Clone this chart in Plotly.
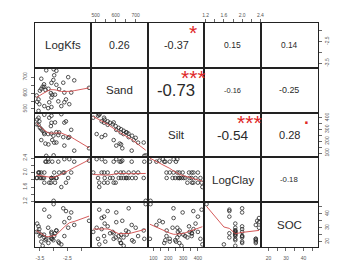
import numpy as np
import plotly.graph_objects as go

# ---------------- data ----------------
var_names = ["LogKfs", "Sand", "Silt", "LogClay", "SOC"]

log_kfs = [-3.27, -3.00, -2.98, -3.01, -3.08, -2.47, -3.34, -3.45, -3.19, -2.90,
           -2.61, -2.36, -3.08, -3.55, -2.83, -3.16, -3.52, -3.34, -2.61, -2.43,
           -3.08, -2.72, -3.55, -1.71, -3.40, -3.30, -3.50, -2.95, -3.20, -2.55,
           -3.60, -2.25, -2.90, -3.45, -3.10, -2.80, -3.35, -2.65, -3.05, -3.62]
sand = [743, 750, 712, 682, 664, 700, 639, 627, 627, 652,
        603, 603, 572, 560, 548, 542, 530, 518, 542, 530,
        512, 518, 488, 633, 640, 620, 615, 590, 505, 560,
        545, 680, 740, 690, 600, 625, 655, 665, 590, 585]
silt = [76, 80, 188, 247, 265, 229, 261, 302, 173, 277,
        163, 297, 357, 340, 252, 400, 370, 425, 358, 236,
        417, 430, 400, 140, 289, 180, 314, 360, 261, 369,
        384, 120, 189, 210, 329, 275, 274, 235, 210, 344]
log_clay = [2.30, 1.22, 2.00, 1.85, 1.85, 1.85, 2.00, 1.85, 2.30, 1.85,
            2.37, 2.00, 1.85, 2.00, 2.30, 1.72, 2.00, 1.72, 2.00, 2.37,
            1.85, 1.60, 2.00, 2.33, 1.85, 2.30, 1.85, 1.72, 2.37, 1.72,
            1.85, 2.30, 1.85, 2.00, 1.72, 2.00, 1.85, 2.00, 2.30, 1.85]
soc = [22, 47, 24, 21, 27, 30, 23, 25, 19, 28,
       34, 41, 26, 31, 20, 38, 29, 43, 24, 37,
       22, 18, 27, 35, 17, 21, 24, 26, 30, 42,
       33, 32, 28, 20, 23, 19, 25, 44, 22, 27]

# printed correlations (upper panels)
cor_row = [0, 0, 0, 0, 1, 1, 1, 2, 2, 3]
cor_col = [1, 2, 3, 4, 2, 3, 4, 3, 4, 4]
cor_value = [0.26, -0.37, 0.15, 0.14, -0.73, -0.16, -0.25, -0.54, 0.28, -0.18]
cor_signif = ["", "*", "", "", "***", "", "", "***", ".", ""]

# ticks
kfs_ticks = [-3.5, -3.0, -2.5, -2.0]
kfs_labels = ["-3.5", "", "-2.5", ""]
sand_ticks = [500, 550, 600, 650, 700]
sand_labels = ["500", "", "600", "", "700"]
silt_ticks = [100, 150, 200, 250, 300, 350, 400]
silt_labels = ["100", "", "200", "", "300", "", "400"]
clay_ticks = [1.2, 1.4, 1.6, 1.8, 2.0, 2.2, 2.4]
clay_labels = ["1.2", "", "1.6", "", "2.0", "", "2.4"]
soc_ticks = [20, 25, 30, 35, 40, 45]
soc_labels = ["20", "", "30", "", "40", ""]

# ---------------- helpers ----------------
data = [log_kfs, sand, silt, log_clay, soc]
ticks = [(kfs_ticks, kfs_labels), (sand_ticks, sand_labels), (silt_ticks, silt_labels),
         (clay_ticks, clay_labels), (soc_ticks, soc_labels)]


def pad_range(v):
    lo, hi = min(v), max(v)
    d = (hi - lo) * 0.04
    return [lo - d, hi + d]


def lowess(x, y, f=2 / 3, iters=3):
    x = np.asarray(x, float)
    y = np.asarray(y, float)
    o = np.argsort(x, kind="stable")
    x, y = x[o], y[o]
    n = len(x)
    r = int(np.ceil(f * n))
    delta = np.ones(n)
    yest = np.zeros(n)
    span = float(np.ptp(x))
    for _ in range(iters + 1):
        for i in range(n):
            dist = np.abs(x - x[i])
            h = max(np.sort(dist)[r - 1], 1e-12)
            u = np.clip(dist / h, 0, 1)
            w = (1 - u ** 3) ** 3 * delta
            sw = w.sum()
            xm = (w * x).sum() / sw
            ym = (w * y).sum() / sw
            sxx = (w * (x - xm) ** 2).sum()
            b = (w * (x - xm) * (y - ym)).sum() / sxx if sxx > 1e-9 * (span ** 2 + 1e-12) else 0.0
            yest[i] = ym + b * (x[i] - xm)
        res = y - yest
        s = np.median(np.abs(res))
        if s <= 0:
            break
        uu = np.clip(res / (6 * s), -1, 1)
        delta = (1 - uu ** 2) ** 2
    return x, yest


ARIAL_W = {"0": .556, "1": .556, "2": .556, "3": .556, "4": .556, "5": .556, "6": .556,
           "7": .556, "8": .556, "9": .556, ".": .278, "-": .333}


def em_width(t):
    return sum(ARIAL_W.get(c, .556) for c in t)


ranges = [pad_range(v) for v in data]

W, H = 337, 269
X0, Y0 = 33, 19
CW, CH = 57.5, 46
FONT = "Arial, Liberation Sans, sans-serif"
TICKFONT = dict(family=FONT, size=5, color="#555")

fig = go.Figure()
layout = dict(width=W, height=H, margin=dict(l=0, r=0, t=0, b=0),
              paper_bgcolor="white", plot_bgcolor="white", showlegend=False)
annotations = []


def ax_id(k):
    return "" if k == 1 else str(k)


for i in range(5):
    for j in range(5):
        k = i * 5 + j + 1
        s = ax_id(k)
        xd = [(X0 + j * CW) / W, (X0 + (j + 1) * CW) / W]
        yd = [1 - (Y0 + (i + 1) * CH) / H, 1 - (Y0 + i * CH) / H]
        xa = dict(domain=xd, range=ranges[j], anchor="y" + s, showline=True, mirror=True,
                  linecolor="#222", linewidth=1, showgrid=False, zeroline=False,
                  ticks="", showticklabels=False, fixedrange=True)
        ya = dict(domain=yd, range=ranges[i], anchor="x" + s, showline=True, mirror=True,
                  linecolor="#222", linewidth=1, showgrid=False, zeroline=False,
                  ticks="", showticklabels=False, fixedrange=True)
        # outer axes like R pairs()
        if i == 0 and j % 2 == 1:
            tv, tt = ticks[j]
            xa.update(side="top", ticks="outside", ticklen=3, tickwidth=0.8, tickcolor="#444",
                      tickvals=tv, ticktext=tt, showticklabels=True, tickfont=TICKFONT)
        if i == 4 and j % 2 == 0:
            tv, tt = ticks[j]
            xa.update(side="bottom", ticks="outside", ticklen=3, tickwidth=0.8, tickcolor="#444",
                      tickvals=tv, ticktext=tt, showticklabels=True, tickfont=TICKFONT,
                      ticklabelstandoff=3)
        if j == 0 and i % 2 == 1:
            tv, tt = ticks[i]
            ya.update(side="left", ticks="outside", ticklen=3, tickwidth=0.8, tickcolor="#444",
                      tickvals=tv, ticktext=tt, showticklabels=True, tickfont=TICKFONT,
                      tickangle=-90, ticklabelstandoff=2)
        if j == 4 and i % 2 == 0:
            tv, tt = ticks[i]
            ya.update(side="right", ticks="outside", ticklen=3, tickwidth=0.8, tickcolor="#444",
                      tickvals=tv, ticktext=tt, showticklabels=True, tickfont=TICKFONT,
                      tickangle=-90, ticklabelstandoff=1)
        layout["xaxis" + s] = xa
        layout["yaxis" + s] = ya

        xr = ("x" + s) + " domain"
        yr = ("y" + s) + " domain"
        if i > j:
            fig.add_trace(go.Scatter(x=data[j], y=data[i], mode="markers",
                                     xaxis="x" + s, yaxis="y" + s,
                                     marker=dict(symbol="circle-open", size=3.6,
                                                 color="#2a2a2a", line=dict(width=0.8)),
                                     hoverinfo="skip"))
            lx, ly = lowess(data[j], data[i])
            fig.add_trace(go.Scatter(x=lx, y=ly, mode="lines", xaxis="x" + s, yaxis="y" + s,
                                     line=dict(color="#d04848", width=0.9), hoverinfo="skip"))
        else:
            # empty trace so the panel (frame + axes) is drawn
            fig.add_trace(go.Scatter(x=[None], y=[None], mode="markers",
                                     xaxis="x" + s, yaxis="y" + s, hoverinfo="skip"))
            if i == j:
                annotations.append(dict(x=0.5, y=0.5, xref=xr, yref=yr, text=var_names[i],
                                        showarrow=False, xanchor="center", yanchor="middle",
                                        font=dict(family=FONT, size=11.5, color="#2a2a2a")))

# correlation texts
for r, c, v, sig in zip(cor_row, cor_col, cor_value, cor_signif):
    k = r * 5 + c + 1
    s = ax_id(k)
    txt = f"{v:.2f}"
    wem = em_width(txt)
    size = 37 * (abs(v) + 0.3) / wem
    annotations.append(dict(x=0.5, y=0.5, xref="x" + s + " domain", yref="y" + s + " domain",
                            text=txt, showarrow=False, xanchor="center", yanchor="middle",
                            font=dict(family=FONT, size=size, color="#2a2a2a")))
    if sig:
        ssize = 48 / wem
        shift = -0.05 * ssize if "*" in sig else 0.25 * ssize
        annotations.append(dict(x=0.8, y=0.8, xref="x" + s + " domain", yref="y" + s + " domain",
                                text=sig, showarrow=False, yshift=shift,
                                xanchor="center", yanchor="middle",
                                font=dict(family=FONT, size=ssize, color="#e02828")))

layout["annotations"] = annotations
fig.update_layout(**layout)
fig.write_html("out.html", config={"displayModeBar": False, "staticPlot": True},
               post_script="document.body.style.margin='0';document.body.style.overflow='hidden';")
